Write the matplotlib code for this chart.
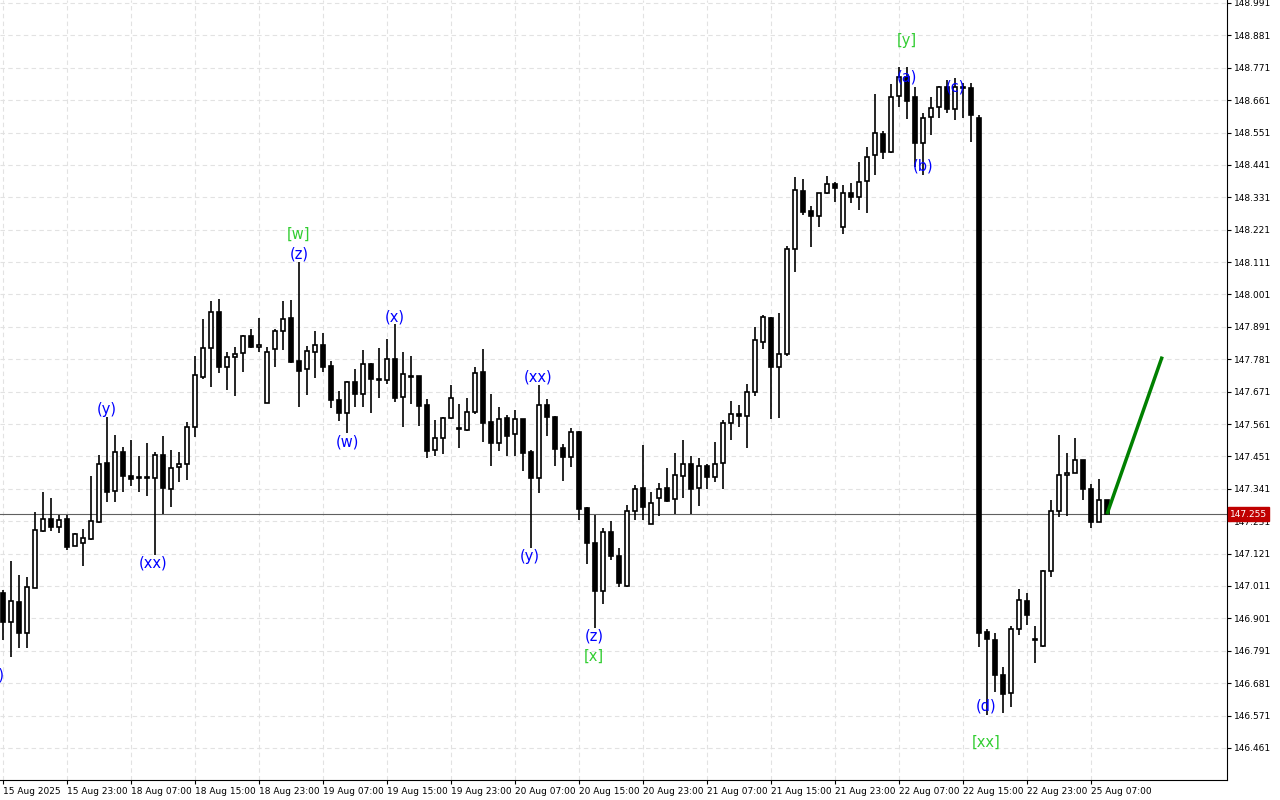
import matplotlib
matplotlib.use("Agg")
import matplotlib.pyplot as plt
import numpy as np

opens = [146.987,146.889,146.957,146.851,147.004,147.198,147.238,147.211,147.238,147.147,
147.157,147.171,147.228,147.429,147.334,147.466,147.385,147.381,147.378,147.378,
147.456,147.340,147.415,147.425,147.551,147.721,147.819,147.941,147.755,147.789,
147.802,147.860,147.823,147.632,147.816,147.877,147.921,147.775,147.748,147.806,
147.829,147.758,147.643,147.598,147.704,147.663,147.765,147.714,147.711,147.782,
147.653,147.724,147.724,147.626,147.473,147.514,147.581,147.544,147.541,147.602,
147.738,147.568,147.497,147.581,147.527,147.578,147.466,147.378,147.626,147.585,
147.480,147.449,147.534,147.276,147.157,146.994,147.194,147.113,147.011,147.266,
147.344,147.221,147.310,147.344,147.306,147.385,147.425,147.344,147.418,147.381,
147.429,147.565,147.595,147.588,147.670,147.840,147.921,147.755,147.799,148.155,
148.352,148.284,148.267,148.346,148.376,148.230,148.346,148.332,148.386,148.475,
148.546,148.485,148.675,148.740,148.672,148.515,148.604,148.638,148.706,148.631,
148.702,148.702,148.600,146.855,146.828,146.709,146.648,146.865,146.960,146.828,
146.807,147.062,147.266,147.388,147.395,147.439,147.340,147.228,147.303]
highs = [146.997,147.096,147.048,147.042,147.262,147.330,147.310,147.252,147.252,147.191,
147.205,147.385,147.456,147.585,147.524,147.483,147.507,147.452,147.497,147.466,
147.520,147.473,147.466,147.568,147.792,147.918,147.979,147.986,147.806,147.823,
147.863,147.884,147.921,147.823,147.884,147.979,147.982,148.111,147.826,147.877,
147.870,147.775,147.673,147.707,147.748,147.812,147.768,147.819,147.850,147.901,
147.806,147.792,147.724,147.646,147.575,147.585,147.694,147.629,147.649,147.755,
147.816,147.663,147.619,147.592,147.609,147.578,147.473,147.694,147.646,147.588,
147.493,147.548,147.537,147.279,147.252,147.208,147.232,147.140,147.286,147.354,
147.490,147.330,147.361,147.412,147.463,147.507,147.452,147.446,147.425,147.500,
147.575,147.639,147.626,147.697,147.891,147.931,147.924,147.938,148.166,148.400,
148.393,148.301,148.346,148.403,148.383,148.373,148.380,148.451,148.502,148.682,
148.556,148.716,148.773,148.773,148.706,148.617,148.672,148.709,148.729,148.736,
148.719,148.719,148.610,146.865,146.851,146.736,146.875,147.001,146.987,146.875,
147.065,147.303,147.524,147.463,147.514,147.439,147.357,147.374,147.303]
lows = [146.828,146.770,146.800,146.800,147.004,147.194,147.198,147.191,147.133,147.147,
147.079,147.167,147.225,147.296,147.296,147.330,147.351,147.330,147.317,147.116,
147.255,147.279,147.364,147.371,147.517,147.714,147.687,147.734,147.677,147.656,
147.738,147.819,147.806,147.632,147.755,147.812,147.768,147.619,147.660,147.717,
147.738,147.615,147.571,147.531,147.619,147.619,147.598,147.649,147.697,147.636,
147.551,147.629,147.554,147.446,147.452,147.459,147.578,147.480,147.537,147.595,
147.500,147.418,147.469,147.452,147.452,147.401,147.140,147.327,147.520,147.418,
147.368,147.415,147.235,147.086,146.868,146.950,147.099,147.008,147.008,147.235,
147.235,147.221,147.249,147.296,147.255,147.310,147.255,147.283,147.340,147.364,
147.340,147.507,147.551,147.480,147.656,147.816,147.578,147.581,147.792,148.077,
148.271,148.162,148.230,148.342,148.315,148.206,148.312,148.288,148.278,148.407,
148.461,148.481,148.638,148.597,148.434,148.407,148.543,148.600,148.617,148.593,
148.600,148.519,146.804,146.573,146.651,146.580,146.600,146.845,146.878,146.749,
146.804,147.042,147.245,147.249,147.395,147.303,147.208,147.228,147.259]
closes = [146.889,146.960,146.851,147.008,147.201,147.238,147.211,147.235,147.143,147.188,
147.174,147.232,147.425,147.330,147.466,147.385,147.374,147.378,147.381,147.456,
147.344,147.412,147.425,147.551,147.728,147.819,147.941,147.755,147.789,147.799,
147.860,147.823,147.829,147.806,147.877,147.918,147.772,147.741,147.809,147.829,
147.755,147.643,147.598,147.704,147.663,147.765,147.714,147.711,147.782,147.649,
147.731,147.721,147.622,147.469,147.514,147.581,147.649,147.548,147.602,147.734,
147.565,147.497,147.578,147.520,147.578,147.463,147.378,147.626,147.585,147.476,
147.449,147.534,147.272,147.157,146.994,147.194,147.113,147.021,147.266,147.340,
147.279,147.293,147.340,147.300,147.388,147.425,147.340,147.418,147.381,147.425,
147.565,147.595,147.588,147.670,147.846,147.924,147.755,147.799,148.155,148.356,
148.281,148.267,148.346,148.376,148.363,148.346,148.332,148.383,148.468,148.549,
148.485,148.672,148.740,148.658,148.515,148.600,148.634,148.706,148.631,148.706,
148.706,148.610,146.852,146.831,146.709,146.644,146.865,146.963,146.912,146.826,
147.062,147.266,147.388,147.395,147.439,147.340,147.228,147.303,147.255]

x_labels = ["15 Aug 2025","15 Aug 23:00","18 Aug 07:00","18 Aug 15:00","18 Aug 23:00",
"19 Aug 07:00","19 Aug 15:00","19 Aug 23:00","20 Aug 07:00","20 Aug 15:00","20 Aug 23:00",
"21 Aug 07:00","21 Aug 15:00","21 Aug 23:00","22 Aug 07:00","22 Aug 15:00","22 Aug 23:00",
"25 Aug 07:00"]
y_ticks = [148.991,148.881,148.771,148.661,148.551,148.441,148.331,148.221,148.111,148.001,
147.891,147.781,147.671,147.561,147.451,147.341,147.231,147.121,147.011,146.901,146.791,
146.681,146.571,146.461]
current_price = 147.255
forecast_x = [138, 144.9]
forecast_y = [147.255, 147.79]

blue = "#0000ff"; lime = "#32cd32"
wave_labels = [
    ("(x)", -1.0, 146.71, blue), ("(y)", 13, 147.61, blue), ("(xx)", 18.8, 147.09, blue),
    ("[w]", 37, 148.205, lime), ("(z)", 37, 148.138, blue), ("(w)", 43, 147.50, blue),
    ("(x)", 49, 147.925, blue), ("(xx)", 66.9, 147.72, blue), ("(y)", 65.9, 147.11, blue),
    ("(z)", 73.9, 146.84, blue), ("[x]", 73.9, 146.773, lime), ("[y]", 113, 148.865, lime),
    ("(a)", 113, 148.740, blue), ("(b)", 115, 148.437, blue), ("(c)", 119, 148.706, blue),
    ("(d)", 122.9, 146.604, blue), ("[xx]", 122.9, 146.481, lime),
]

fig = plt.figure(figsize=(12.8, 8.0), dpi=100)
ax = fig.add_axes([0, 20/800, 1227/1280, 780/800])
ax.set_xlim(-0.375, 153)
ax.set_ylim(146.352, 149.001)

n = len(opens)
idx = np.arange(n)
o = np.array(opens); h = np.array(highs); l = np.array(lows); c = np.array(closes)
ax.vlines(idx, l, h, color="black", lw=1.2, zorder=3)
bull = c >= o
w = 0.6
bottom = np.minimum(o, c)
height = np.maximum(np.abs(c - o), 0.004)
ax.bar(idx[bull], height[bull], bottom=bottom[bull], width=w, facecolor="white",
       edgecolor="black", lw=1.2, zorder=4)
ax.bar(idx[~bull], height[~bull], bottom=bottom[~bull], width=w, facecolor="black",
       edgecolor="black", lw=1.2, zorder=4)

ax.axhline(current_price, color="#606060", lw=0.8, zorder=2)
ax.plot(forecast_x, forecast_y, color="#008000", lw=2.5, zorder=5, solid_capstyle="butt")

for t, xi, p, col in wave_labels:
    ax.text(xi, p, t, color=col, fontsize=10.5, ha="center", va="center", zorder=6, clip_on=True)

xt = [8 * k for k in range(len(x_labels))]
ax.set_xticks(xt)
ax.set_xticklabels(x_labels, fontsize=6.5, ha="left")
ax.set_yticks(y_ticks)
ax.set_yticklabels([f"{v:.3f}" for v in y_ticks], fontsize=6.5)
ax.yaxis.tick_right()
ax.tick_params(axis="both", length=3, width=0.8, colors="black", pad=2)
ax.grid(True, color="#e2e2e2", ls=(0, (4, 3)), lw=0.8, zorder=0)
for s in ax.spines.values():
    s.set_color("black"); s.set_linewidth(0.8)
ax.spines["left"].set_visible(False)
ax.spines["top"].set_visible(False)

ax.annotate(f"{current_price:.3f}", xy=(1.0, current_price), xycoords=("axes fraction", "data"),
            xytext=(2, 0), textcoords="offset points", fontsize=6.5, color="white",
            va="center", ha="left",
            bbox=dict(boxstyle="square,pad=0.25", fc="#c00000", ec="#c00000"))

fig.savefig("out.png", dpi=100, facecolor="white")
